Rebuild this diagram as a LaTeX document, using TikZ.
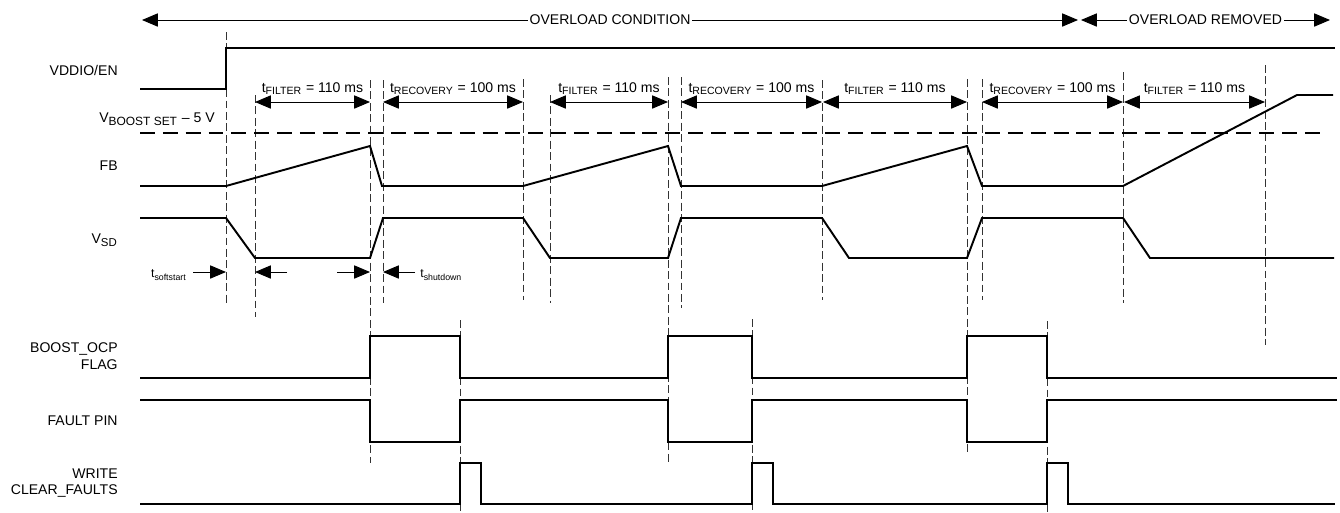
\documentclass[tikz,border=0pt]{standalone}
\usepackage{fontspec}
\setmainfont{Liberation Sans}
\usetikzlibrary{arrows.meta}

\tikzset{
  wave/.style={line width=1.1pt, line join=miter},
  thresh/.style={line width=1.1pt, dash pattern=on 8.5pt off 4.5pt},
  guide/.style={line width=0.5pt, dash pattern=on 4.5pt off 2pt, black!80},
  dimline/.style={line width=0.5pt, {Triangle[length=9pt,width=7.5pt]}-{Triangle[length=9pt,width=7.5pt]}},
  tipline/.style={line width=0.5pt, -{Triangle[length=9pt,width=7.5pt]}},
  lbl/.style={font=\fontsize{8}{9.6}\selectfont, align=right, anchor=east, inner sep=0pt},
  dimtxt/.style={font=\fontsize{8}{9.6}\selectfont, anchor=base, yshift=2mm, inner sep=0pt},
  smalltxt/.style={font=\fontsize{7}{8}\selectfont, inner sep=0pt},
}

\begin{document}
\begin{tikzpicture}[x=0.02cm, y=-0.02cm]
  \useasboundingbox (0,0) rectangle (1340,512);

  % Phase arrows on top
  \draw[dimline] (142,20) -- node[fill=white, inner xsep=1pt, inner ysep=0pt, font=\fontsize{8}{9.6}\selectfont] (cond) {OVERLOAD CONDITION} (1078,20);
  \draw[dimline] (1081,20) -- node[fill=white, inner xsep=1pt, inner ysep=0pt, font=\fontsize{8}{9.6}\selectfont] (removed) {OVERLOAD REMOVED} (1330,20);

  % Signal names
  \node[lbl] (vddio) at (118,70) {VDDIO/EN};
  \node[lbl] (vboost) at (215,119) {V\textsubscript{\fontsize{6.8}{7}\selectfont BOOST SET} -- 5 V};
  \node[lbl] (fb) at (118,166) {FB};
  \node[lbl] (vsd) at (118,240) {V\textsubscript{\fontsize{6.5}{7}\selectfont SD}};
  \node[lbl] (ocp) at (118,356) {BOOST\_OCP\\FLAG};
  \node[lbl] (fault) at (118,421) {FAULT PIN};
  \node[lbl] (clr) at (118,483) {WRITE\\CLEAR\_FAULTS};

  % Dashed time markers
  \draw[guide] (226,32) -- (226,303);
  \draw[guide] (255,95) -- (255,317);
  \draw[guide] (370,80) -- (370,463);
  \draw[guide] (383,80) -- (383,303);
  \draw[guide] (460,320) -- (460,512);
  \draw[guide] (523,79) -- (523,300);
  \draw[guide] (550,95) -- (550,303);
  \draw[guide] (668,77) -- (668,463);
  \draw[guide] (681,77) -- (681,308);
  \draw[guide] (752,319) -- (752,512);
  \draw[guide] (822,80) -- (822,300);
  \draw[guide] (967,79) -- (967,455);
  \draw[guide] (982,79) -- (982,300);
  \draw[guide] (1047,321) -- (1047,512);
  \draw[guide] (1123,72) -- (1123,303);
  \draw[guide] (1265,65) -- (1265,345);

  % Timing dimensions
  \draw[dimline] (255,102) -- node[dimtxt] (f1) {t\textsubscript{FILTER} = 110 ms} (370,102);
  \draw[dimline] (383,102) -- node[dimtxt] (r1) {t\textsubscript{RECOVERY} = 100 ms} (523,102);
  \draw[dimline] (550,102) -- node[dimtxt] (f2) {t\textsubscript{FILTER} = 110 ms} (668,102);
  \draw[dimline] (681,102) -- node[dimtxt] (r2) {t\textsubscript{RECOVERY} = 100 ms} (822,102);
  \draw[dimline] (823,102) -- node[dimtxt] (f3) {t\textsubscript{FILTER} = 110 ms} (967,102);
  \draw[dimline] (982,102) -- node[dimtxt] (r3) {t\textsubscript{RECOVERY} = 100 ms} (1123,102);
  \draw[dimline] (1124,102) -- node[dimtxt] (f4) {t\textsubscript{FILTER} = 110 ms} (1265,102);

  % Threshold
  \draw[thresh] (140,133) -- (1323,133);

  % Waveforms
  \draw[wave] (140,89) -- (226,89) -- (226,48) -- (1335,48);
  \draw[wave] (140,186) -- (226,186) -- (370,146) -- (382,186) -- (523,186) -- (668,146) -- (681,186)
    -- (822,186) -- (967,146) -- (982,186) -- (1123,186) -- (1297,95) -- (1333,95);
  \draw[wave] (140,218) -- (226,218) -- (255,258) -- (370,258) -- (383,218) -- (523,218) -- (550,258)
    -- (668,258) -- (681,218) -- (822,218) -- (849,258) -- (967,258) -- (982,218) -- (1123,218)
    -- (1150,258) -- (1334,258);
  \draw[wave] (140,378) -- (370,378) -- (370,336) -- (460,336) -- (460,378) -- (668,378) -- (668,336)
    -- (752,336) -- (752,378) -- (967,378) -- (967,336) -- (1047,336) -- (1047,378) -- (1337,378);
  \draw[wave] (140,400) -- (370,400) -- (370,442) -- (460,442) -- (460,400) -- (668,400) -- (668,442)
    -- (752,442) -- (752,400) -- (967,400) -- (967,442) -- (1047,442) -- (1047,400) -- (1337,400);
  \draw[wave] (140,504) -- (460,504) -- (460,463) -- (481,463) -- (481,504) -- (752,504) -- (752,463)
    -- (773,463) -- (773,504) -- (1047,504) -- (1047,463) -- (1068,463) -- (1068,504) -- (1335,504);

  % Soft-start and shutdown times
  \node[smalltxt, anchor=east] (tss) at (187,275) {t\textsubscript{softstart}};
  \draw[tipline] (193,272) -- (226,272);
  \draw[tipline] (287,272) -- (255,272);
  \draw[tipline] (337,272) -- (370,272);
  \draw[tipline] (415,272) -- (383,272);
  \node[smalltxt, anchor=west] (tsd) at (420,275) {t\textsubscript{shutdown}};
\end{tikzpicture}
\end{document}
